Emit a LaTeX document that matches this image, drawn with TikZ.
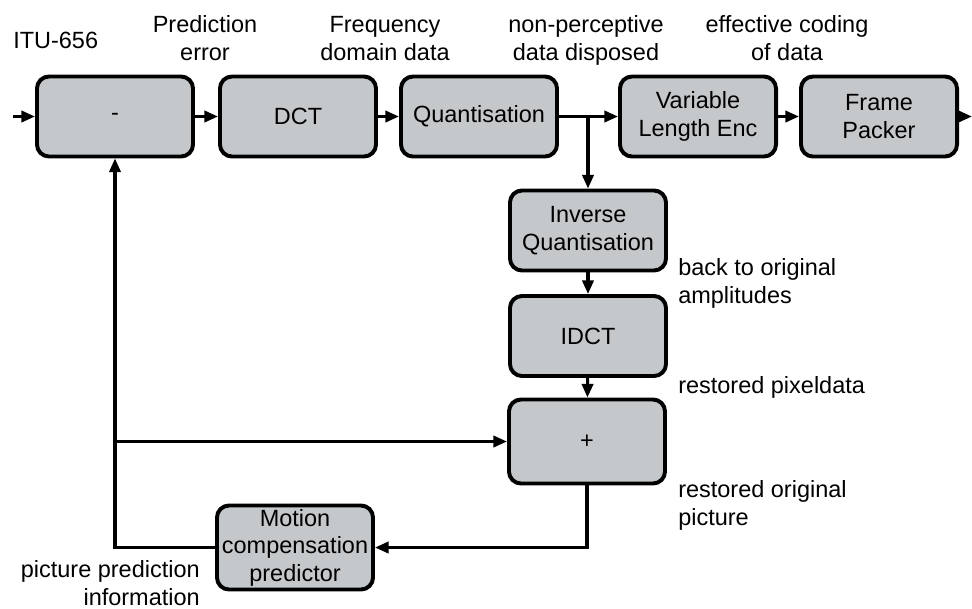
\documentclass[tikz,border=0pt]{standalone}
\usepackage{fontspec}
\setmainfont{Liberation Sans}
\usetikzlibrary{arrows.meta,positioning}
\definecolor{boxgray}{RGB}{196,200,202}
\tikzset{
    block/.style={rectangle, rounded corners=0.3cm, draw, line width=2.8pt, fill=boxgray, minimum width=3.9cm, minimum height=2cm, align=center, inner sep=1pt},
    edge/.style={draw, line width=2.2pt, -{Triangle[length=3.4mm, width=2.8mm]}},
    wire/.style={draw, line width=2.2pt},
    note/.style={inner sep=0pt, align=center}
}
\begin{document}
\begin{tikzpicture}[x=0.025cm, y=-0.025cm,
                    font=\fontsize{16.7}{19.5}\selectfont]
    \useasboundingbox (0,0) rectangle (972,608);
    % Nodes
    \node[block] (minus) at (115,116.5) {\raisebox{-2pt}{-}};
    \node[block] (dct) at (298,116.5) {DCT};
    \node[block] (quant) at (479,116.5) {Quantisation};
    \node[block] (vle) at (698,116.5) {Variable\\Length Enc};
    \node[block] (packer) at (879,116.5) {Frame\\Packer};
    \node[block] (iquant) at (588,230.5) {Inverse\\Quantisation};
    \node[block] (idct) at (588,336) {IDCT};
    \node[block, minimum height=2.1cm] (plus) at (587,441.5) {+};
    \node[block, minimum height=2.1cm, inner sep=0pt] (motion) at (295,547.5) {Motion\\compensation\\predictor};

    \coordinate (in) at (13,116.5);
    \coordinate (out) at (972,116.5);
    \coordinate (split) at (iquant.north |- quant.east);
    \coordinate (fork) at (minus.south |- plus.west);

    % labels
    \node[note, anchor=base west] (itu) at (13,48) {ITU-656};
    \node[note, anchor=base] (prederr) at (205,60) {Prediction\\error};
    \node[note, anchor=base] (freq) at (385,60) {Frequency\\domain data};
    \node[note, anchor=base] (disposed) at (586,60) {non-perceptive\\data disposed};
    \node[note, anchor=base] (coding) at (787,60) {effective coding\\of data};
    \node[note, anchor=base west, align=left] (amp) at (678,303) {back to original\\amplitudes};
    \node[note, anchor=base west] (pix) at (678,393) {restored pixeldata};
    \node[note, anchor=base west, align=left] (orig) at (678,525) {restored original\\picture};
    \node[note, anchor=base east, align=right] (predinfo) at (200,605) {picture prediction\\information};

    % edges
    \draw[edge] (in) -- (minus);
    \draw[edge] (minus) -- (dct);
    \draw[edge] (dct) -- (quant);
    \draw[edge] (quant) -- (vle);
    \draw[edge] (vle) -- (packer);
    \draw[edge] (packer) -- (out);
    \draw[edge] (split) -- (iquant);
    \draw[edge] (iquant) -- (idct);
    \draw[edge] (idct) -- (plus);
    \draw[edge] (plus.south) |- (motion.east);
    \draw[edge] (motion.west) -| (minus.south);
    \draw[edge] (fork) -- (plus.west);
\end{tikzpicture}
\end{document}
